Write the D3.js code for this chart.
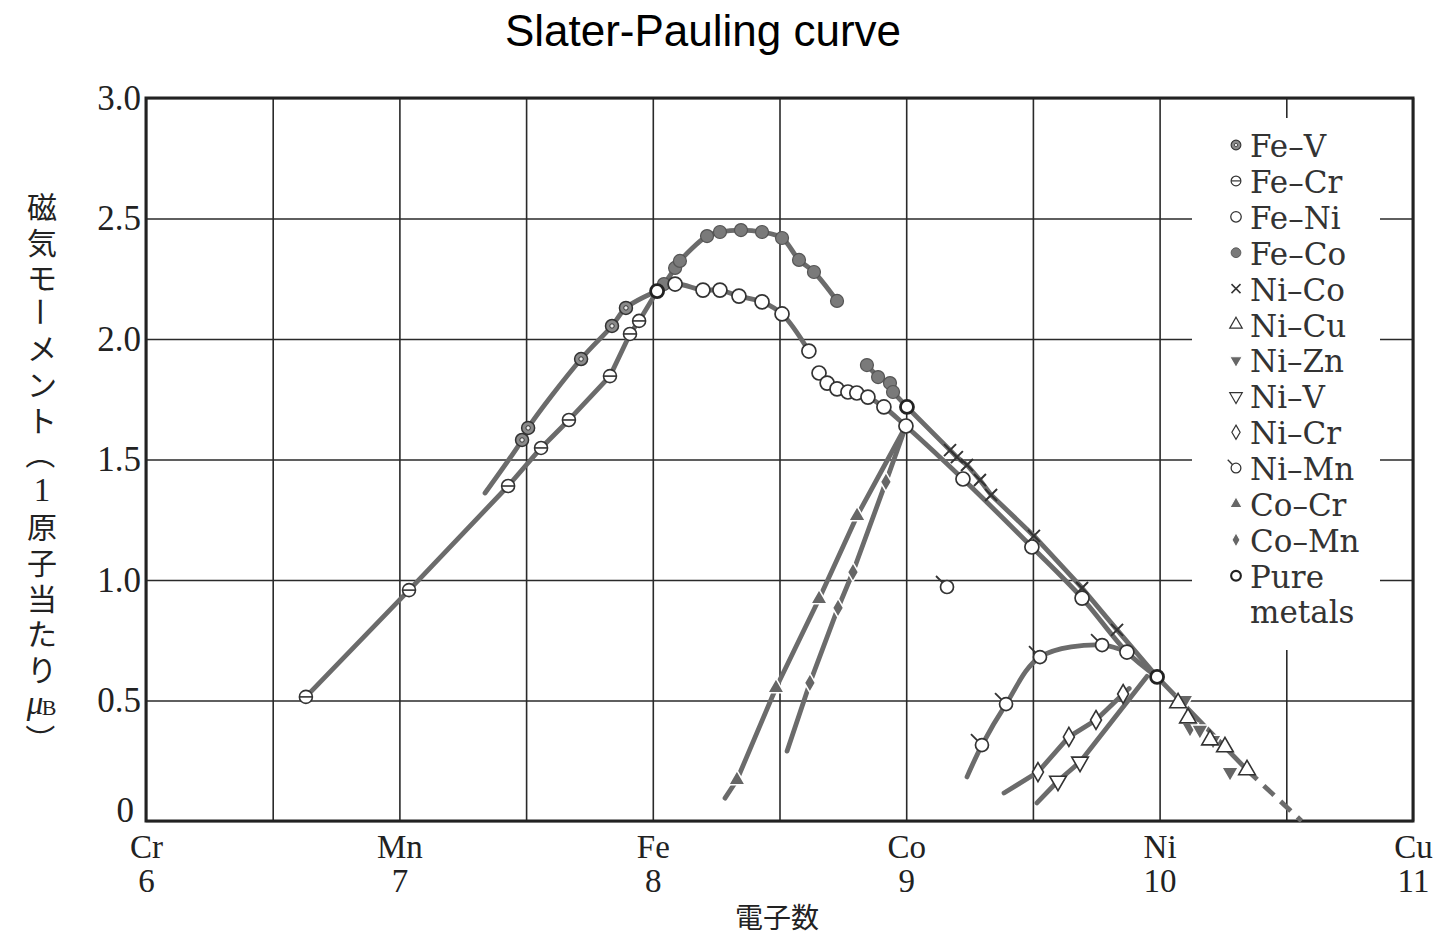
<!DOCTYPE html>
<html>
<head>
<meta charset="utf-8">
<script src="https://cdn.jsdelivr.net/npm/d3@7"></script>
<style>
  html, body { margin: 0; padding: 0; background: #fff; }
  svg { display: block; }
</style>
</head>
<body>
<script>
// ---- axis definitions ----
const electronTicks = [6, 7, 8, 9, 10, 11];
const elementLabels = ["Cr", "Mn", "Fe", "Co", "Ni", "Cu"];
const momentTicks = [0, 0.5, 1.0, 1.5, 2.0, 2.5, 3.0];
const momentTickLabels = ["0", "0.5", "1.0", "1.5", "2.0", "2.5", "3.0"];
const gridX = [6, 6.5, 7, 7.5, 8, 8.5, 9, 9.5, 10, 10.5, 11];

// ---- measured series: [electrons per atom, moment per atom (μB)] ----
const pureMetals = [[8.017, 2.199], [9.003, 1.718], [9.990, 0.598]];
const feV  = [[7.484, 1.581], [7.508, 1.631], [7.717, 1.917], [7.839, 2.054], [7.894, 2.129]];
const feCr = [[6.631, 0.515], [7.038, 0.958], [7.429, 1.390], [7.559, 1.548], [7.669, 1.664],
              [7.831, 1.846], [7.910, 2.021], [7.946, 2.075]];
const feNiBcc = [[8.088, 2.228], [8.198, 2.203], [8.265, 2.203], [8.340, 2.178], [8.431, 2.154],
                 [8.510, 2.104], [8.616, 1.950]];
const feNiFcc = [[8.656, 1.859], [8.688, 1.817], [8.727, 1.793], [8.770, 1.780], [8.805, 1.776],
                 [8.849, 1.759], [8.912, 1.718], [8.999, 1.639], [9.224, 1.419], [9.496, 1.137],
                 [9.694, 0.925], [9.871, 0.701]];
const feCo = [[8.044, 2.228], [8.088, 2.295], [8.107, 2.324], [8.214, 2.427], [8.265, 2.444],
              [8.348, 2.452], [8.431, 2.444], [8.510, 2.419], [8.577, 2.328], [8.636, 2.278],
              [8.727, 2.158]];
const feCoHigh = [[8.845, 1.892], [8.889, 1.842], [8.936, 1.817], [8.948, 1.780]];
const niCo = [[9.173, 1.539], [9.200, 1.510], [9.240, 1.477], [9.291, 1.415], [9.335, 1.353],
              [9.504, 1.183], [9.694, 0.967], [9.832, 0.793]];
const niCu = [[10.073, 0.490], [10.112, 0.427], [10.199, 0.336], [10.258, 0.307], [10.345, 0.212]];
const niZn = [[10.100, 0.502], [10.120, 0.386], [10.159, 0.378], [10.211, 0.336], [10.278, 0.203]];
const niV  = [[9.599, 0.166], [9.686, 0.245]];
const niCr = [[9.520, 0.203], [9.642, 0.349], [9.749, 0.419], [9.856, 0.527]];
const niMn = [[9.299, 0.315], [9.394, 0.485], [9.528, 0.680], [9.773, 0.730]];
const niMnSingle = [[9.161, 0.971]];
const coCr = [[8.332, 0.170], [8.486, 0.552], [8.656, 0.921], [8.806, 1.266]];
const coMn = [[8.620, 0.573], [8.731, 0.884], [8.790, 1.033], [8.920, 1.407]];

// ends of the drawn curves where no symbol sits
const feVStart = [7.338, 1.361];
const niMnStart = [9.240, 0.183];
const niCrEnds = [[9.386, 0.116], [9.880, 0.550]];
const niVEnds = [[9.516, 0.075], [9.950, 0.600]];
const coCrStart = [8.285, 0.095];
const coMnStart = [8.530, 0.290];
const tailEnd = [10.560, 0.0];

const legendItems = [
  ["dotCircle", "Fe–V"], ["barCircle", "Fe–Cr"], ["openCircle", "Fe–Ni"], ["filledCircle", "Fe–Co"],
  ["cross", "Ni–Co"], ["triUpOpen", "Ni–Cu"], ["triDownFilled", "Ni–Zn"], ["triDownOpen", "Ni–V"],
  ["diamondOpen", "Ni–Cr"], ["tickCircle", "Ni–Mn"], ["triUpFilled", "Co–Cr"], ["diamondFilled", "Co–Mn"],
  ["boldCircle", "Pure"]
];
const yTitleChars = ["磁", "気", "モ", "ー", "メ", "ン", "ト", "（", "1", "原", "子", "当", "た", "り", "μ", "）"];

// ---- layout ----
const W = 1439, H = 936;
const pL = 146, pR = 1413, pT = 98, pB = 821;
const lineColor = "#6b6b6b";
const ink = "#2a2a2a";

const svg = d3.select("body").append("svg").attr("width", W).attr("height", H);
const x = d3.scaleLinear().domain([6, 11]).range([pL, pR]);
const y = d3.scaleLinear().domain([0, 3]).range([pB, pT]);

// title
svg.append("text").attr("x", 703).attr("y", 46).attr("text-anchor", "middle")
  .attr("font-family", "Liberation Sans, Arial, sans-serif").attr("font-size", 44)
  .attr("fill", "#000").text("Slater-Pauling curve");

// grid
const gx = svg.append("g").attr("transform", `translate(0,${pB})`)
  .call(d3.axisBottom(x).tickValues(gridX).tickSize(-(pB - pT)).tickFormat(""));
gx.select(".domain").remove();
gx.selectAll(".tick line").attr("stroke", ink).attr("stroke-width", 1.6);

const gy = svg.append("g").attr("transform", `translate(${pL},0)`)
  .call(d3.axisLeft(y).tickValues(momentTicks).tickSize(-(pR - pL)).tickFormat(""));
gy.select(".domain").remove();
gy.selectAll(".tick line").attr("stroke", ink).attr("stroke-width", 1.6);

// legend panel blanks the grid behind it
svg.append("rect").attr("x", 1192).attr("y", 118).attr("width", 188).attr("height", 532).attr("fill", "#fff");

// frame
svg.append("rect").attr("x", pL).attr("y", pT).attr("width", pR - pL).attr("height", pB - pT)
  .attr("fill", "none").attr("stroke", "#222").attr("stroke-width", 3);

// y tick labels (the zero sits a little higher, clear of the element row)
const ya = svg.append("g").attr("transform", `translate(${pL},0)`)
  .call(d3.axisLeft(y).tickValues(momentTicks).tickFormat((d, i) => momentTickLabels[i]).tickSize(0).tickPadding(5));
ya.select(".domain").remove();
ya.selectAll("text").attr("font-family", "Liberation Serif, serif").attr("font-size", 35).attr("fill", "#222");
ya.selectAll(".tick").filter(d => d === 0).select("text").attr("y", -11).attr("x", -12);

// x tick labels: element symbol above electron count
const xa = svg.append("g").attr("transform", `translate(0,${pB})`)
  .call(d3.axisBottom(x).tickValues(electronTicks).tickSize(0).tickFormat(""));
xa.select(".domain").remove();
xa.selectAll(".tick").each(function (d, i) {
  const g = d3.select(this);
  g.append("text").attr("text-anchor", "middle").attr("y", 37)
    .attr("font-family", "Liberation Serif, serif").attr("font-size", 33).attr("fill", "#222")
    .text(elementLabels[i]);
  g.append("text").attr("text-anchor", "middle").attr("y", 71)
    .attr("font-family", "Liberation Serif, serif").attr("font-size", 33).attr("fill", "#222")
    .text(electronTicks[i]);
});

// axis titles
svg.append("text").attr("x", 777).attr("y", 928).attr("text-anchor", "middle")
  .attr("font-family", "Noto Sans CJK JP, sans-serif").attr("font-size", 28).attr("fill", "#222").text("電子数");

const yt = svg.append("g").attr("font-family", "Noto Sans CJK JP, sans-serif").attr("font-size", 30).attr("fill", "#222");
yTitleChars.forEach((c, i) => {
  const cy = 205 + i * 35.6;
  const rot = (c === "ー" || c === "（" || c === "）") ? 90 : 0;
  const latin = c === "1" || c === "μ";
  const t = yt.append("text").attr("text-anchor", "middle").attr("dominant-baseline", "central")
    .attr("transform", `translate(${c === "μ" ? 35 : 42},${cy}) rotate(${rot})`)
    .text(c);
  if (latin) t.attr("font-family", "Liberation Serif, serif").attr("font-size", 33)
    .attr("font-style", c === "μ" ? "italic" : null);
  if (c === "μ") {
    yt.append("text").attr("x", 49).attr("y", cy + 12).attr("text-anchor", "middle")
      .attr("font-family", "Liberation Serif, serif").attr("font-size", 22).text("B");
  }
});

// ---- curves ----
const Fe = pureMetals[0], Co = pureMetals[1], Ni = pureMetals[2];
const smooth = d3.line().x(d => x(d[0])).y(d => y(d[1])).curve(d3.curveCatmullRom.alpha(0.5));
const straight = d3.line().x(d => x(d[0])).y(d => y(d[1]));
const lines = svg.append("g").attr("fill", "none").attr("stroke", lineColor)
  .attr("stroke-width", 4.8).attr("stroke-linecap", "round").attr("stroke-linejoin", "round");

lines.append("path").attr("d", straight([...feCr, Fe]));
lines.append("path").attr("d", smooth([feVStart, ...feV, Fe]));
lines.append("path").attr("d", smooth([Fe, ...feCo]));
lines.append("path").attr("d", smooth([Fe, ...feNiBcc]));
lines.append("path").attr("d", smooth([...feNiFcc, Ni]));
lines.append("path").attr("d", straight([...feCoHigh, Co, ...niCo, Ni, niCu[niCu.length - 1]]));
lines.append("path").attr("d", straight([niCu[niCu.length - 1], tailEnd])).attr("stroke-dasharray", "14,9")
  .attr("stroke-linecap", "butt");
lines.append("path").attr("d", smooth([niMnStart, ...niMn, feNiFcc[feNiFcc.length - 1]]));
lines.append("path").attr("d", straight([niCrEnds[0], ...niCr, niCrEnds[1]]));
lines.append("path").attr("d", straight([niVEnds[0], ...niV, niVEnds[1]]));
lines.append("path").attr("d", straight([coCrStart, ...coCr, feNiFcc[7]]));
lines.append("path").attr("d", straight([coMnStart, ...coMn, feNiFcc[7]]));

// ---- symbols ----
function marker(g, type, cx, cy, k) {
  const s = g.append("g").attr("transform", `translate(${cx},${cy}) scale(${k})`);
  const stroke = "#333";
  const tri = d3.symbol().type(d3.symbolTriangle).size(120)();
  const dia = "M0,-9.5L5.5,0L0,9.5L-5.5,0Z";
  switch (type) {
    case "dotCircle":
      s.append("circle").attr("r", 6.5).attr("fill", "#8a8a8a").attr("stroke", stroke).attr("stroke-width", 1.5);
      s.append("circle").attr("r", 2.2).attr("fill", "#eee").attr("stroke", stroke).attr("stroke-width", 1);
      break;
    case "barCircle":
      s.append("circle").attr("r", 6.5).attr("fill", "#fff").attr("stroke", stroke).attr("stroke-width", 1.6);
      s.append("line").attr("x1", -6.5).attr("x2", 6.5).attr("stroke", stroke).attr("stroke-width", 1.6);
      break;
    case "openCircle":
      s.append("circle").attr("r", 7).attr("fill", "#fff").attr("stroke", stroke).attr("stroke-width", 1.7);
      break;
    case "filledCircle":
      s.append("circle").attr("r", 6.5).attr("fill", "#7a7a7a").attr("stroke", "#555").attr("stroke-width", 1.2);
      break;
    case "cross":
      s.append("path").attr("d", "M-6,-6L6,6M-6,6L6,-6").attr("stroke", stroke).attr("stroke-width", 2)
        .attr("fill", "none");
      break;
    case "triUpOpen":
      s.append("path").attr("d", tri).attr("fill", "#fff").attr("stroke", stroke).attr("stroke-width", 1.6);
      break;
    case "triDownOpen":
      s.append("path").attr("d", tri).attr("transform", "rotate(180)").attr("fill", "#fff")
        .attr("stroke", stroke).attr("stroke-width", 1.6);
      break;
    case "triDownFilled":
      s.append("path").attr("d", tri).attr("transform", "rotate(180)").attr("fill", "#666")
        .attr("stroke", "#fff").attr("stroke-width", 1.5);
      break;
    case "triUpFilled":
      s.append("path").attr("d", tri).attr("fill", "#666").attr("stroke", "#fff").attr("stroke-width", 1.5);
      break;
    case "diamondOpen":
      s.append("path").attr("d", dia).attr("fill", "#fff").attr("stroke", stroke).attr("stroke-width", 1.6);
      break;
    case "diamondFilled":
      s.append("path").attr("d", dia).attr("fill", "#666").attr("stroke", "#fff").attr("stroke-width", 1.5);
      break;
    case "tickCircle":
      s.append("line").attr("x1", -4.5).attr("y1", -4.5).attr("x2", -11).attr("y2", -11)
        .attr("stroke", stroke).attr("stroke-width", 1.8);
      s.append("circle").attr("r", 6.5).attr("fill", "#fff").attr("stroke", stroke).attr("stroke-width", 1.7);
      break;
    case "boldCircle":
      s.append("circle").attr("r", 6.5).attr("fill", "#fff").attr("stroke", "#222").attr("stroke-width", 2.8);
      break;
  }
}

const marks = svg.append("g");
const plotSeries = (data, type) => data.forEach(d => marker(marks, type, x(d[0]), y(d[1]), 1));
plotSeries(feCr, "barCircle");
plotSeries(feV, "dotCircle");
plotSeries(feCo, "filledCircle");
plotSeries(feCoHigh, "filledCircle");
plotSeries(feNiBcc, "openCircle");
plotSeries(feNiFcc, "openCircle");
plotSeries(niCo, "cross");
plotSeries(niZn, "triDownFilled");
plotSeries(niCu, "triUpOpen");
plotSeries(niV, "triDownOpen");
plotSeries(niCr, "diamondOpen");
plotSeries(niMn, "tickCircle");
plotSeries(niMnSingle, "tickCircle");
plotSeries(coCr, "triUpFilled");
plotSeries(coMn, "diamondFilled");
plotSeries(pureMetals, "boldCircle");

// ---- legend ----
const lg = svg.append("g");
legendItems.forEach(([type, label], i) => {
  const cy = 146 + i * 35.9;
  marker(lg, type, 1236, cy - 1, 0.75);
  lg.append("text").attr("x", 1250).attr("y", cy).attr("dominant-baseline", "central")
    .attr("font-family", "DejaVu Serif, serif").attr("font-size", 31).attr("fill", "#333").text(label);
});
lg.append("text").attr("x", 1250).attr("y", 146 + 12 * 35.9 + 35).attr("dominant-baseline", "central")
  .attr("font-family", "DejaVu Serif, serif").attr("font-size", 31).attr("fill", "#333").text("metals");
</script>
</body>
</html>
